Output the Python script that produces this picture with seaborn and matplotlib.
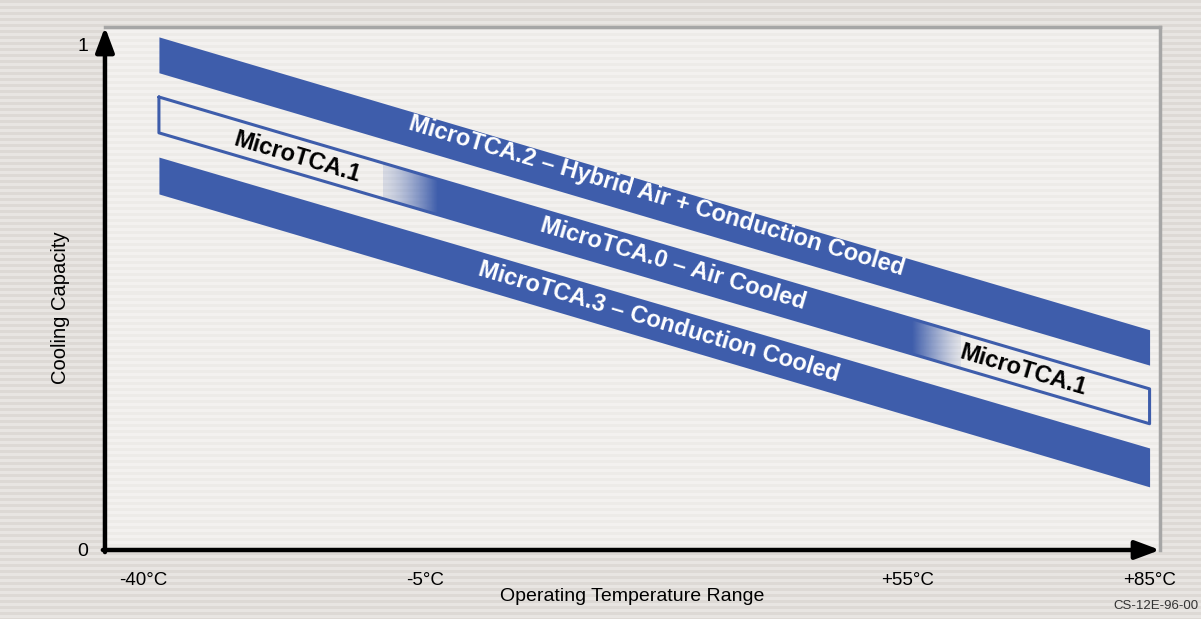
import numpy as np
import pandas as pd
import matplotlib.pyplot as plt
import seaborn as sns
from matplotlib.patches import Polygon

# Band edges (cooling capacity, 0..1) at the band's left and right temperature
band_temps = [-38, 85]
mtca2_top = [1.016, 0.436]
mtca2_bottom = [0.945, 0.366]
mtca1_top = [0.897, 0.319]
mtca1_bottom = [0.826, 0.250]
mtca3_top = [0.778, 0.202]
mtca3_bottom = [0.705, 0.125]

# part of the middle band that is MicroTCA.0 (solid), with its fade in / fade out
mtca0_fade_in = [-10.2, -3.4]
mtca0_fade_out = [55.5, 61.5]

tick_temps = [-40, -5, 55, 85]
tick_labels = ['-40°C', '-5°C', '+55°C', '+85°C']

label_texts = ['MicroTCA.2 – Hybrid Air + Conduction Cooled',
               'MicroTCA.0 – Air Cooled',
               'MicroTCA.3 – Conduction Cooled',
               'MicroTCA.1',
               'MicroTCA.1']
label_x = [23.8, 25.8, 24.1, -20.9, 69.3]
label_y = [0.701, 0.566, 0.451, 0.778, 0.356]
label_colors = ['white', 'white', 'white', 'black', 'black']

blue = '#3e5dab'

sns.set_theme(style='white')
plt.rcParams['font.family'] = ['Liberation Sans', 'DejaVu Sans']

fig = plt.figure(figsize=(12.01, 6.19), dpi=100)

# striped backdrop
bg = fig.add_axes([0, 0, 1, 1], zorder=-10)
rows = np.arange(619)
stripe = np.where((rows // 3) % 2 == 0, 0, 1)
bg_cols = np.array([[221, 217, 213], [232, 229, 226]]) / 255
bg.imshow(bg_cols[stripe][:, None, :], aspect='auto', extent=[0, 1, 0, 1], interpolation='nearest')
bg.set_axis_off()

ax = fig.add_axes([0.0874, 0.1115, 0.8785, 0.8449])
ax.set_facecolor('none')
prow = np.arange(174)
pstripe = np.where(prow % 2 == 0, 0, 1)
panel_cols = np.array([[237, 235, 232], [243, 241, 239]]) / 255
ax.imshow(panel_cols[pstripe][:, None, :], aspect='auto', extent=[0, 1, 0, 1],
          transform=ax.transAxes, interpolation='nearest', zorder=0)

# filled bands
ax.fill_between(band_temps, mtca2_bottom, mtca2_top, color=blue, lw=0, zorder=2)
ax.fill_between(band_temps, mtca3_bottom, mtca3_top, color=blue, lw=0, zorder=2)

# middle band: MicroTCA.0 solid section, fading into MicroTCA.1 outlined ends
corners = list(zip(band_temps, mtca1_top)) + list(zip(band_temps[::-1], mtca1_bottom[::-1]))
clip = Polygon(corners, closed=True, facecolor='none', edgecolor='none')
ax.add_patch(clip)
solid = ax.axvspan(mtca0_fade_in[1], mtca0_fade_out[0], color=blue, lw=0, zorder=2)
solid.set_clip_path(clip)
ramp = np.linspace(0, 1, 64)
rgb = np.array([0x3e, 0x5d, 0xab]) / 255
grad_in = np.zeros((1, 64, 4))
grad_in[..., :3] = rgb
grad_in[..., 3] = 0.15 + 0.85 * ramp ** 1.4
grad_out = np.zeros((1, 64, 4))
grad_out[..., :3] = rgb
grad_out[..., 3] = 0.1 + 0.9 * (1 - ramp) ** 1.2
for grad, span in [(grad_in, mtca0_fade_in), (grad_out, mtca0_fade_out)]:
    im = ax.imshow(grad, aspect='auto', extent=[span[0], span[1], 0, 1.1],
                   interpolation='bilinear', zorder=2)
    im.set_clip_path(clip)

outline = pd.DataFrame({'x': band_temps + band_temps[::-1] + band_temps[:1],
                        'y': mtca1_top + mtca1_bottom[::-1] + mtca1_top[:1]})
sns.lineplot(data=outline, x='x', y='y', sort=False, estimator=None, color=blue,
             lw=2.2, ax=ax, zorder=3)

ax.set_xlim(-44.7, 86.3)
ax.set_ylim(0, 1.0356)
ax.set_aspect('auto')

# band labels, rotated along the bands
p0 = ax.transData.transform((band_temps[0], mtca2_top[0]))
p1 = ax.transData.transform((band_temps[1], mtca2_top[1]))
angle = np.degrees(np.arctan2(p1[1] - p0[1], p1[0] - p0[0]))
for txt, x, y, c in zip(label_texts, label_x, label_y, label_colors):
    ax.text(x, y, txt, color=c, fontsize=17, fontweight='bold', rotation=angle,
            rotation_mode='anchor', ha='center', va='center', zorder=4)

ax.set_xticks(tick_temps, tick_labels)
ax.set_yticks([0, 1], ['0', '1'])
ax.tick_params(axis='x', length=0, pad=16, labelsize=13.5, colors='black')
ax.tick_params(axis='y', length=0, pad=12, labelsize=14, colors='black')
ax.set_xlabel('Operating Temperature Range', fontsize=14, color='black')
ax.set_ylabel('Cooling Capacity', fontsize=14.5, color='black')
ax.xaxis.set_label_coords(0.5, -0.072)
ax.yaxis.set_label_coords(-0.033, 0.463)

for side in ['left', 'bottom']:
    ax.spines[side].set_visible(False)
for side in ['top', 'right']:
    ax.spines[side].set_visible(True)
    ax.spines[side].set_color('#a6a6a6')
    ax.spines[side].set_linewidth(2.5)

arrow = dict(arrowstyle='-|>,head_width=0.28,head_length=0.75', lw=3.2, color='black',
             shrinkA=0, shrinkB=0, mutation_scale=20)
ax.annotate('', xy=(0, 1.0), xytext=(0, -0.004), xycoords='axes fraction', arrowprops=arrow, zorder=5)
ax.annotate('', xy=(1.0, 0), xytext=(-0.002, 0), xycoords='axes fraction', arrowprops=arrow, zorder=5)

fig.text(0.998, 0.012, 'CS-12E-96-00', fontsize=9.5, color='#333333', ha='right', va='bottom')

fig.savefig('out.png', dpi=100)
